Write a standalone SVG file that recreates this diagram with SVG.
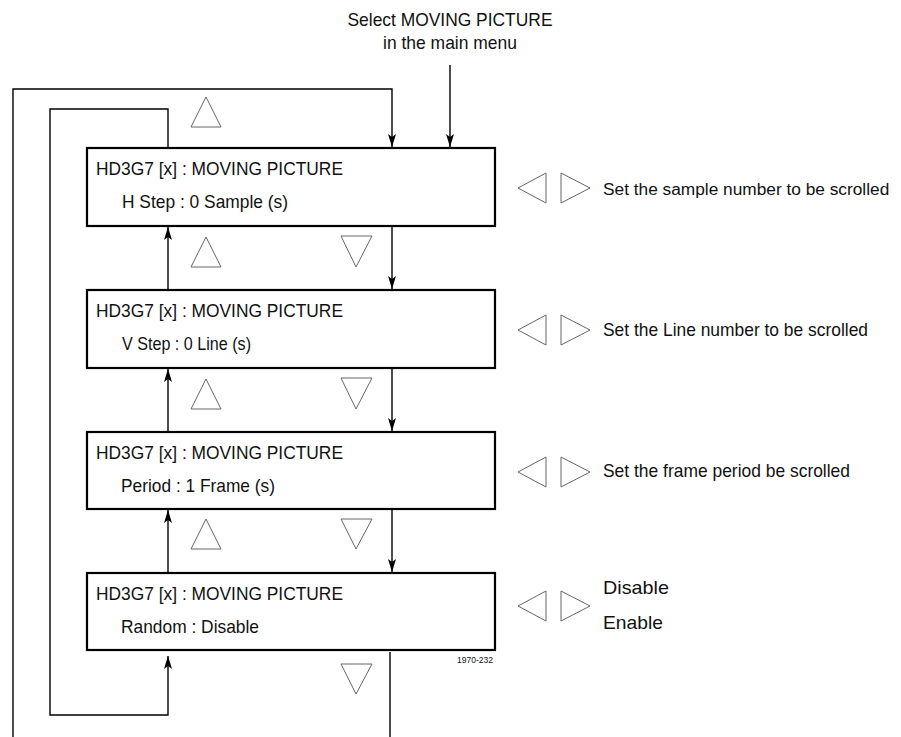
<svg xmlns="http://www.w3.org/2000/svg" width="901" height="737" viewBox="0 0 901 737">
<style>
text{font-family:"Liberation Sans",Arial,sans-serif;font-size:19px;fill:#111}
.box{fill:#fff;stroke:#000;stroke-width:2.2}
.ln{fill:none;stroke:#000;stroke-width:1.4}
.tri{fill:none;stroke:#666;stroke-width:1}
.small{font-size:9px}
</style>
<defs>
<marker id="ah" markerWidth="14" markerHeight="8" refX="13" refY="4" orient="auto" markerUnits="userSpaceOnUse">
<path d="M0,0 L13,4 L0,8 L3,4 z" fill="#000"/>
</marker>
</defs>
<rect width="901" height="737" fill="#fff"/>
<g id="title">
<text x="450" y="26" text-anchor="middle" textLength="205" lengthAdjust="spacingAndGlyphs">Select MOVING PICTURE</text>
<text x="450" y="49" text-anchor="middle" textLength="134" lengthAdjust="spacingAndGlyphs">in the main menu</text>
</g>
<g id="connectors">
<path class="ln" d="M450,65 V147" marker-end="url(#ah)"/>
<path class="ln" d="M13,737 V89 H392 V147" marker-end="url(#ah)"/>
<path class="ln" d="M168,148 V109 H50 V715 H168 V656" marker-end="url(#ah)"/>
<path class="ln" d="M392,227 V289" marker-end="url(#ah)"/>
<path class="ln" d="M392,369 V431" marker-end="url(#ah)"/>
<path class="ln" d="M392,510 V572" marker-end="url(#ah)"/>
<path class="ln" d="M168,290 V227" marker-end="url(#ah)"/>
<path class="ln" d="M168,432 V369" marker-end="url(#ah)"/>
<path class="ln" d="M168,573 V510" marker-end="url(#ah)"/>
<path class="ln" d="M390,652 V737"/>
</g>
<g id="box1">
<rect class="box" x="87" y="148" width="408" height="78"/>
<text x="96" y="175" textLength="247" lengthAdjust="spacingAndGlyphs">HD3G7 [x] : MOVING PICTURE</text>
<text x="122" y="208" textLength="166" lengthAdjust="spacingAndGlyphs">H Step : 0 Sample (s)</text>
</g>
<g id="box2">
<rect class="box" x="87" y="290" width="408" height="78"/>
<text x="96" y="317" textLength="247" lengthAdjust="spacingAndGlyphs">HD3G7 [x] : MOVING PICTURE</text>
<text x="122" y="350" textLength="129" lengthAdjust="spacingAndGlyphs">V Step : 0 Line (s)</text>
</g>
<g id="box3">
<rect class="box" x="87" y="432" width="408" height="77"/>
<text x="96" y="459" textLength="247" lengthAdjust="spacingAndGlyphs">HD3G7 [x] : MOVING PICTURE</text>
<text x="121" y="492" textLength="154" lengthAdjust="spacingAndGlyphs">Period : 1 Frame (s)</text>
</g>
<g id="box4">
<rect class="box" x="87" y="573" width="408" height="77"/>
<text x="96" y="600" textLength="247" lengthAdjust="spacingAndGlyphs">HD3G7 [x] : MOVING PICTURE</text>
<text x="121" y="633" textLength="138" lengthAdjust="spacingAndGlyphs">Random : Disable</text>
</g>
<g id="updown">
<polygon class="tri" points="206,97 191,127 221,127"/>
<polygon class="tri" points="206,237 191,267 221,267"/>
<polygon class="tri" points="341,236 372,236 356,267"/>
<polygon class="tri" points="206,379 191,409 221,409"/>
<polygon class="tri" points="341,378 372,378 356,409"/>
<polygon class="tri" points="206,519 191,549 221,549"/>
<polygon class="tri" points="341,519 372,519 356,549"/>
<polygon class="tri" points="341,664 372,664 356,694"/>
</g>
<g id="side1">
<polygon class="tri" points="518,188 546,173 546,203"/>
<polygon class="tri" points="590,188 561,173 561,203"/>
<text x="603" y="195" style="font-size:17.3px">Set the sample number to be scrolled</text>
</g>
<g id="side2">
<polygon class="tri" points="518,330 546,315 546,345"/>
<polygon class="tri" points="590,330 561,315 561,345"/>
<text x="603" y="336" textLength="265" lengthAdjust="spacingAndGlyphs">Set the Line number to be scrolled</text>
</g>
<g id="side3">
<polygon class="tri" points="518,472 546,457 546,487"/>
<polygon class="tri" points="590,472 561,457 561,487"/>
<text x="603" y="477" textLength="247" lengthAdjust="spacingAndGlyphs">Set the frame period be scrolled</text>
</g>
<g id="side4">
<polygon class="tri" points="518,606 546,591 546,621"/>
<polygon class="tri" points="590,606 561,591 561,621"/>
<text x="603" y="594" textLength="66" lengthAdjust="spacingAndGlyphs">Disable</text>
<text x="603" y="629" textLength="60" lengthAdjust="spacingAndGlyphs">Enable</text>
</g>
<text class="small" x="457" y="663" textLength="36" lengthAdjust="spacingAndGlyphs">1970-232</text>
</svg>
